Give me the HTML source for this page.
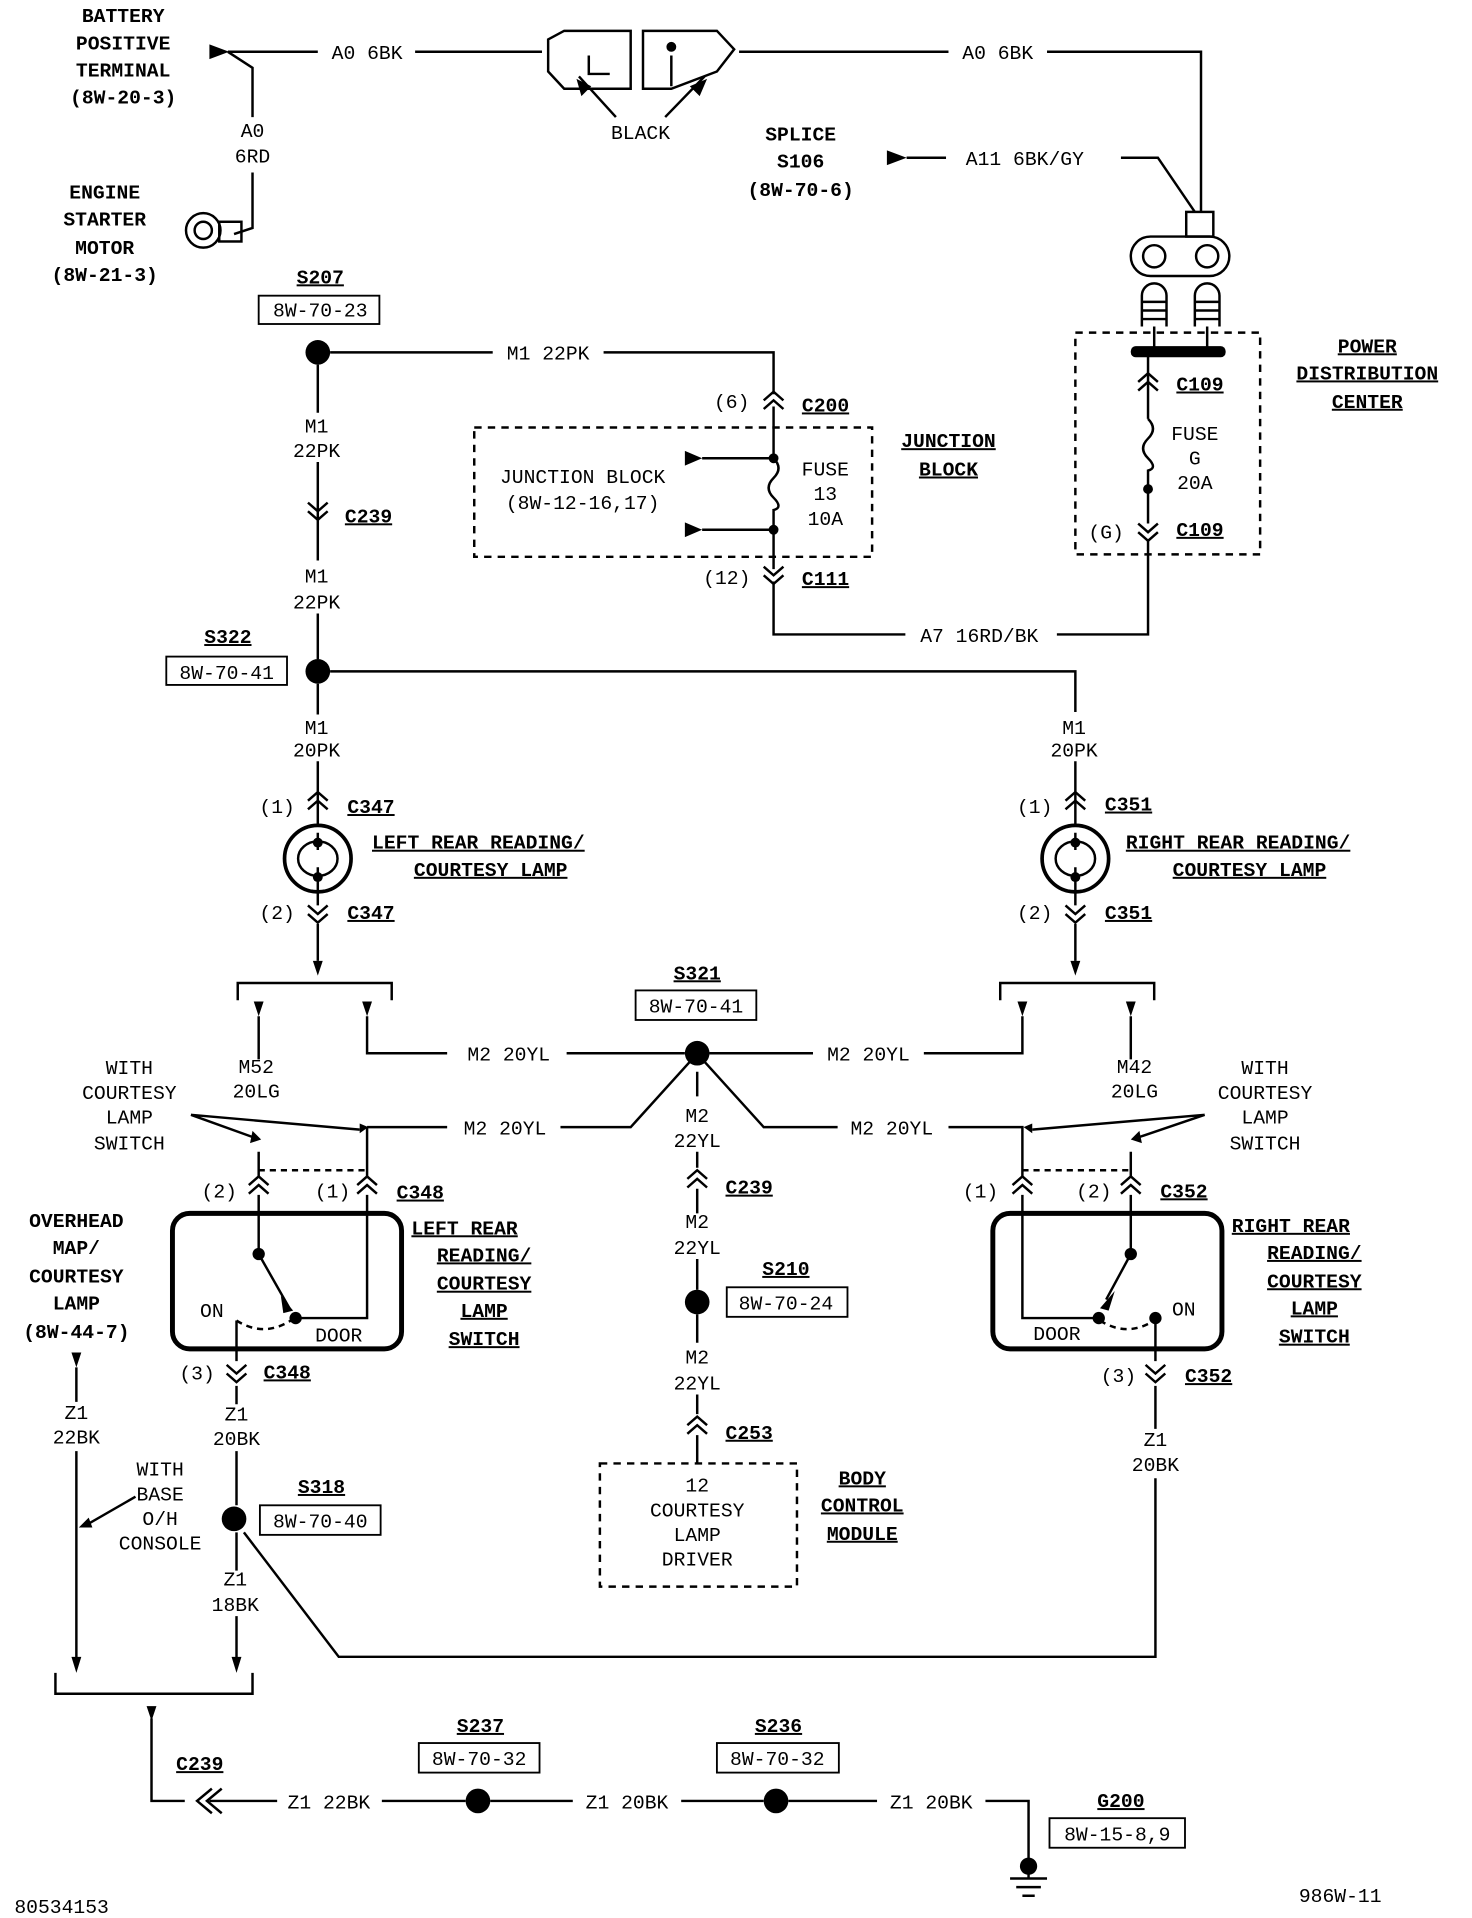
<!DOCTYPE html>
<html><head><meta charset="utf-8"><style>
html,body{margin:0;padding:0;background:#fff;}
svg{display:block;}
text{font-family:"Liberation Mono",monospace;font-size:16px;fill:#000;}
.b{font-family:"Liberation Sans",sans-serif;font-weight:bold;font-size:17px;}
.u{text-decoration:underline;}
</style></head><body>
<svg width="1472" height="1918" viewBox="0 0 1195 1557" xmlns="http://www.w3.org/2000/svg">
<defs>
<g id="cd"><path d="M-8,-7 L0,0 L8,-7 M-8,0 L0,7 L8,0" fill="none" stroke="#000" stroke-width="2"/></g>
<g id="cu"><path d="M-8,7 L0,0 L8,7 M-8,0 L0,-7 L8,0" fill="none" stroke="#000" stroke-width="2"/></g>
</defs>
<g fill="none" stroke="#000" stroke-width="2">
<path d="M185,42 L258,42 M337,42 L440,42 M600,42 L770,42 M850,42 L975,42 L975,172"/>
<path d="M185,42 L205,55 L205,95 M205,140 L205,185 L190,190"/>
<path d="M445,32 L458,25 L512,25 L512,72 L458,72 L445,58 Z"/>
<path d="M522,25 L582,25 L596,40 L582,58 L545,72 L522,72 Z"/>
<path d="M478,45 L478,60 L495,60 M545,45 L545,70"/>
<path d="M500,95 L470,62 M540,95 L572,62"/>
<path d="M736,128 L768,128 M910,128 L940,128 L970,172"/>
<rect x="963" y="172" width="22" height="20"/>
<rect x="918" y="192" width="80" height="32" rx="16"/>
<circle cx="937" cy="208" r="9"/><circle cx="980" cy="208" r="9"/>
<path d="M927,265 L927,240 A10,10 0 0 1 947,240 L947,265 M927,245 L947,245 M927,252 L947,252 M927,259 L947,259"/>
<path d="M970,265 L970,240 A10,10 0 0 1 990,240 L990,265 M970,245 L990,245 M970,252 L990,252 M970,259 L990,259"/>
<path d="M937,265 L937,285 M980,265 L980,285"/>
<rect x="873" y="270" width="150" height="180" stroke-dasharray="6,5"/>
<path d="M932,285 L932,340 M932,340 q8,8 0,16 q-8,8 0,16 q8,8 0,10 L932,425 M932,438 L932,515 L858,515 M735,515 L628,515 L628,472"/>
<rect x="385" y="347" width="323" height="105" stroke-dasharray="6,5"/>
<path d="M268,286 L400,286 M490,286 L628,286 L628,320 M628,330 L628,372 M628,372 q8,8 0,16 q-8,8 0,16 q8,8 0,10 L628,430 L628,462"/>
<path d="M628,372 L570,372 M628,430 L570,430"/>
<path d="M258,296 L258,335 M258,375 L258,455 M258,498 L258,535 M258,555 L258,580 M258,618 L258,670"/>
<path d="M268,545 L873,545 L873,578 M873,618 L873,670"/>
<circle cx="258" cy="697" r="27" stroke-width="3"/><circle cx="873" cy="697" r="27" stroke-width="3"/>
<path d="M258,676 L258,690 M258,704 L258,735 M873,676 L873,690 M873,704 L873,735 M258,750 L258,780 M873,750 L873,780"/>
<path d="M242,697 A16,14 0 0 1 274,697 A16,14 0 0 1 242,697 M857,697 A16,14 0 0 1 889,697 A16,14 0 0 1 857,697"/>
<path d="M193,812 L193,798 L318,798 L318,812 M812,812 L812,798 L937,798 L937,812"/>
<path d="M298,825 L298,855 L363,855 M460,855 L556,855 M576,855 L660,855 M750,855 L830,855 L830,825 M918,825 L918,860 M210,825 L210,860 M210,935 L210,955 M918,935 L918,955"/>
<path d="M298,915 L363,915 M455,915 L512,915 L560,862 M572,862 L620,915 L680,915 M770,915 L830,915 L830,955 M298,915 L298,955"/>
<path d="M566,870 L566,890 M566,935 L566,948 M566,965 L566,985 M566,1022 L566,1047 M566,1067 L566,1090 M566,1132 L566,1148 M566,1165 L566,1188"/>
<path d="M210,950 L298,950 M830,950 L918,950" stroke-dasharray="5,4"/>
<path d="M155,905 L205,923 M155,905 L292,917 M978,905 L838,917 M978,905 L925,923"/>
<rect x="140" y="985" width="186" height="110" rx="14" stroke-width="4"/>
<rect x="806" y="985" width="186" height="110" rx="14" stroke-width="4"/>
<path d="M210,970 L210,1018 L235,1062 M298,970 L298,1070 L240,1070"/>
<path d="M192,1072 q22,14 44,0" stroke-dasharray="5,4"/>
<path d="M192,1072 L192,1105 M918,970 L918,1018 L898,1055 M830,970 L830,1070 L892,1070 M938,1070 L938,1105"/>
<path d="M893,1072 q22,14 44,0" stroke-dasharray="5,4"/>
<path d="M192,1125 L192,1140 M192,1178 L192,1222 M192,1244 L192,1275 M192,1312 L192,1350 M198,1244 L275,1345 L938,1345 L938,1200 M938,1125 L938,1160"/>
<rect x="487" y="1188" width="160" height="100" stroke-dasharray="6,5"/>
<path d="M62,1110 L62,1138 M62,1178 L62,1352 M110,1215 L70,1238"/>
<path d="M45,1358 L45,1375 L205,1375 L205,1358 M123,1395 L123,1462 L150,1462 M170,1462 L225,1462 M310,1462 L378,1462 M398,1462 L465,1462 M553,1462 L620,1462 M640,1462 L712,1462 M800,1462 L835,1462 L835,1515 M835,1515 L835,1525 M820,1525 L850,1525 M825,1532 L845,1532 M830,1539 L840,1539"/>
<path d="M172,1452 L160,1462 L172,1472 M180,1452 L168,1462 L180,1472"/>
<rect x="210" y="240" width="98" height="23" stroke-width="1.5"/>
<rect x="135" y="533" width="98" height="23" stroke-width="1.5"/>
<rect x="516" y="804" width="98" height="24" stroke-width="1.5"/>
<rect x="590" y="1045" width="98" height="24" stroke-width="1.5"/>
<rect x="211" y="1222" width="98" height="24" stroke-width="1.5"/>
<rect x="340" y="1415" width="98" height="24" stroke-width="1.5"/>
<rect x="582" y="1415" width="99" height="24" stroke-width="1.5"/>
<rect x="852" y="1476" width="110" height="24" stroke-width="1.5"/>
</g>
<circle cx="165" cy="187" r="14" fill="none" stroke="#000" stroke-width="2"/><circle cx="165" cy="187" r="7" fill="none" stroke="#000" stroke-width="2"/>
<rect x="178" y="180" width="18" height="16" fill="none" stroke="#000" stroke-width="2"/>
<circle cx="545" cy="38" r="4"/>
<rect x="918" y="281" width="77" height="9" rx="4"/>
<circle cx="258" cy="286" r="10"/><circle cx="258" cy="545" r="10"/><circle cx="566" cy="855" r="10"/>
<circle cx="566" cy="1057" r="10"/><circle cx="190" cy="1233" r="10"/><circle cx="388" cy="1462" r="10"/>
<circle cx="630" cy="1462" r="10"/><circle cx="835" cy="1515" r="7"/>
<circle cx="628" cy="372" r="4"/><circle cx="628" cy="430" r="4"/><circle cx="932" cy="397" r="4"/>
<circle cx="258" cy="684" r="4"/><circle cx="258" cy="712" r="4"/><circle cx="873" cy="684" r="4"/><circle cx="873" cy="712" r="4"/>
<circle cx="210" cy="1018" r="5"/><circle cx="240" cy="1070" r="5"/><circle cx="918" cy="1018" r="5"/><circle cx="892" cy="1070" r="5"/><circle cx="938" cy="1070" r="5"/>
<path d="M228,1052 L238,1064 L230,1066 Z M905,1048 L893,1062 L900,1064 Z"/>
<path d="M468,64 L472,78 L480,70 Z M574,64 L560,70 L568,78 Z"/>
<path d="M170,36 L186,42 L170,48 Z M720,122 L736,128 L720,134 Z"/>
<path d="M556,366 L570,372 L556,378 Z M556,424 L570,430 L556,436 Z"/>
<path d="M254,780 L262,780 L258,792 Z M869,780 L877,780 L873,792 Z"/>
<path d="M206,813 L214,813 L210,825 Z M294,813 L302,813 L298,825 Z M826,813 L834,813 L830,825 Z M914,813 L922,813 L918,825 Z"/>
<path d="M205,918 L212,925 L203,928 Z M292,912 L299,915 L292,920 Z M838,912 L831,915 L838,920 Z M925,918 L918,925 L927,928 Z"/>
<path d="M58,1098 L66,1098 L62,1110 Z M58,1345 L66,1345 L62,1358 Z M188,1345 L196,1345 L192,1358 Z M119,1385 L127,1385 L123,1397 Z M64,1240 L72,1232 L75,1240 Z"/>
<use href="#cu" x="628" y="325"/><use href="#cu" x="932" y="310"/><use href="#cd" x="932" y="432"/><use href="#cd" x="628" y="467"/>
<use href="#cd" x="258" y="415"/><use href="#cu" x="258" y="650"/><use href="#cd" x="258" y="742"/><use href="#cu" x="873" y="650"/><use href="#cd" x="873" y="742"/>
<use href="#cu" x="210" y="962"/><use href="#cu" x="298" y="962"/><use href="#cu" x="830" y="962"/><use href="#cu" x="918" y="962"/>
<use href="#cu" x="566" y="957"/><use href="#cu" x="566" y="1157"/><use href="#cd" x="192" y="1115"/><use href="#cd" x="938" y="1115"/>
<g class="b" text-anchor="middle">
<text x="100" y="18">BATTERY</text><text x="100" y="40">POSITIVE</text><text x="100" y="62">TERMINAL</text><text x="100" y="84">(8W-20-3)</text>
<text x="85" y="161">ENGINE</text><text x="85" y="183">STARTER</text><text x="85" y="206">MOTOR</text><text x="85" y="228">(8W-21-3)</text>
<text x="650" y="114">SPLICE</text><text x="650" y="136">S106</text><text x="650" y="159">(8W-70-6)</text>
<text class="u" x="1110" y="286">POWER</text><text class="u" x="1110" y="308">DISTRIBUTION</text><text class="u" x="1110" y="331">CENTER</text>
<text class="u" x="770" y="363">JUNCTION</text><text class="u" x="770" y="386">BLOCK</text>
<text class="u" x="260" y="230">S207</text><text class="u" x="185" y="522">S322</text><text class="u" x="566" y="795">S321</text>
<text class="u" x="638" y="1035">S210</text><text class="u" x="261" y="1212">S318</text><text class="u" x="390" y="1406">S237</text><text class="u" x="632" y="1406">S236</text><text class="u" x="910" y="1467">G200</text>
<text x="62" y="996">OVERHEAD</text><text x="62" y="1018">MAP/</text><text x="62" y="1041">COURTESY</text><text x="62" y="1063">LAMP</text><text x="62" y="1086">(8W-44-7)</text>
<text class="u" x="700" y="1205">BODY</text><text class="u" x="700" y="1227">CONTROL</text><text class="u" x="700" y="1250">MODULE</text>
<text class="u" x="393" y="1024">READING/</text><text class="u" x="393" y="1047">COURTESY</text><text class="u" x="393" y="1069">LAMP</text><text class="u" x="393" y="1092">SWITCH</text>
<text class="u" x="1067" y="1022">READING/</text><text class="u" x="1067" y="1045">COURTESY</text><text class="u" x="1067" y="1067">LAMP</text><text class="u" x="1067" y="1090">SWITCH</text>
</g>
<g class="b">
<text class="u" x="334" y="1002">LEFT  REAR</text><text class="u" x="1000" y="1000">RIGHT  REAR</text>
<text class="u" x="302" y="689">LEFT REAR READING/</text><text class="u" x="336" y="711">COURTESY LAMP</text>
<text class="u" x="914" y="689">RIGHT REAR READING/</text><text class="u" x="952" y="711">COURTESY LAMP</text>
<text class="u" x="955" y="317">C109</text><text class="u" x="955" y="435">C109</text><text class="u" x="651" y="334">C200</text><text class="u" x="651" y="475">C111</text>
<text class="u" x="280" y="424">C239</text><text class="u" x="282" y="660">C347</text><text class="u" x="282" y="746">C347</text><text class="u" x="897" y="658">C351</text><text class="u" x="897" y="746">C351</text>
<text class="u" x="322" y="973">C348</text><text class="u" x="214" y="1119">C348</text><text class="u" x="942" y="972">C352</text><text class="u" x="962" y="1122">C352</text>
<text class="u" x="589" y="969">C239</text><text class="u" x="589" y="1168">C253</text><text class="u" x="143" y="1437">C239</text>
</g>
<g text-anchor="middle">
<text x="298" y="48">A0 6BK</text><text x="810" y="48">A0 6BK</text><text x="205" y="111">A0</text><text x="205" y="132">6RD</text>
<text x="520" y="113">BLACK</text><text x="832" y="134">A11 6BK/GY</text>
<text x="260" y="257">8W-70-23</text><text x="445" y="292">M1 22PK</text>
<text x="473" y="392">JUNCTION BLOCK</text><text x="473" y="413">(8W-12-16,17)</text>
<text x="670" y="386">FUSE</text><text x="670" y="406">13</text><text x="670" y="426">10A</text>
<text x="970" y="357">FUSE</text><text x="970" y="377">G</text><text x="970" y="397">20A</text>
<text x="594" y="331">(6)</text><text x="590" y="474">(12)</text><text x="898" y="437">(G)</text>
<text x="795" y="521">A7 16RD/BK</text>
<text x="257" y="351">M1</text><text x="257" y="371">22PK</text><text x="257" y="473">M1</text><text x="257" y="494">22PK</text>
<text x="184" y="551">8W-70-41</text><text x="257" y="596">M1</text><text x="257" y="614">20PK</text><text x="872" y="596">M1</text><text x="872" y="614">20PK</text>
<text x="225" y="660">(1)</text><text x="225" y="746">(2)</text><text x="840" y="660">(1)</text><text x="840" y="746">(2)</text>
<text x="565" y="822">8W-70-41</text><text x="413" y="861">M2 20YL</text><text x="705" y="861">M2 20YL</text>
<text x="208" y="871">M52</text><text x="208" y="891">20LG</text><text x="921" y="871">M42</text><text x="921" y="891">20LG</text>
<text x="105" y="872">WITH</text><text x="105" y="892">COURTESY</text><text x="105" y="912">LAMP</text><text x="105" y="933">SWITCH</text>
<text x="1027" y="872">WITH</text><text x="1027" y="892">COURTESY</text><text x="1027" y="912">LAMP</text><text x="1027" y="933">SWITCH</text>
<text x="410" y="921">M2 20YL</text><text x="724" y="921">M2 20YL</text>
<text x="566" y="911">M2</text><text x="566" y="931">22YL</text><text x="566" y="997">M2</text><text x="566" y="1018">22YL</text>
<text x="638" y="1063">8W-70-24</text><text x="566" y="1107">M2</text><text x="566" y="1128">22YL</text>
<text x="178" y="972">(2)</text><text x="270" y="972">(1)</text><text x="796" y="972">(1)</text><text x="888" y="972">(2)</text>
<text x="172" y="1069">ON</text><text x="275" y="1089">DOOR</text><text x="858" y="1088">DOOR</text><text x="961" y="1068">ON</text>
<text x="160" y="1120">(3)</text><text x="908" y="1122">(3)</text>
<text x="192" y="1153">Z1</text><text x="192" y="1173">20BK</text><text x="938" y="1174">Z1</text><text x="938" y="1194">20BK</text>
<text x="62" y="1152">Z1</text><text x="62" y="1172">22BK</text>
<text x="130" y="1198">WITH</text><text x="130" y="1218">BASE</text><text x="130" y="1238">O/H</text><text x="130" y="1258">CONSOLE</text>
<text x="260" y="1240">8W-70-40</text><text x="191" y="1287">Z1</text><text x="191" y="1308">18BK</text>
<text x="566" y="1211">12</text><text x="566" y="1231">COURTESY</text><text x="566" y="1251">LAMP</text><text x="566" y="1271">DRIVER</text>
<text x="267" y="1468">Z1 22BK</text><text x="389" y="1433">8W-70-32</text><text x="509" y="1468">Z1 20BK</text>
<text x="631" y="1433">8W-70-32</text><text x="756" y="1468">Z1 20BK</text><text x="907" y="1494">8W-15-8,9</text>
<text x="50" y="1553">80534153</text><text x="1088" y="1544">986W-11</text>
</g>
</svg>
</body></html>
